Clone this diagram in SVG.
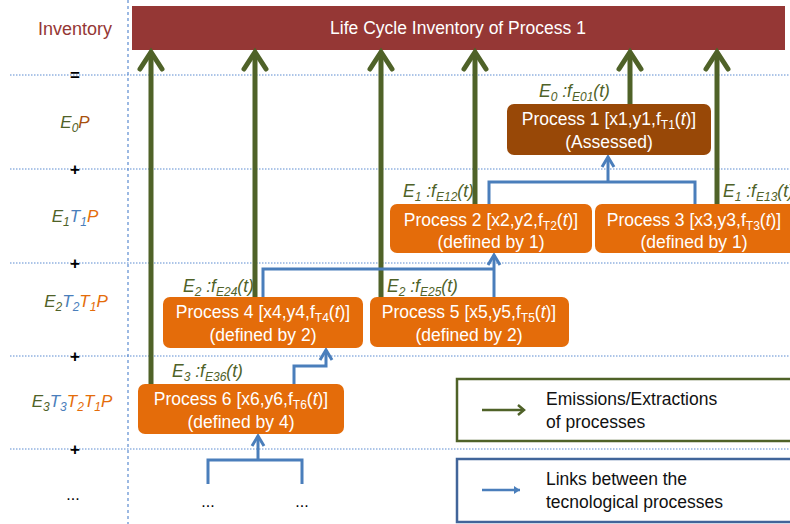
<svg xmlns="http://www.w3.org/2000/svg" width="790" height="524" viewBox="0 0 790 524">
<defs>
<style>
text{font-family:"Liberation Sans",Arial,sans-serif}
.grid{stroke:#5B8BD0;stroke-width:1;stroke-dasharray:1.5 1.5;fill:none}
.vgrid{stroke:#5B8BD0;stroke-width:1.2;stroke-dasharray:3 3;fill:none}
.em{stroke:#4F6228;stroke-width:5;fill:none;marker-end:url(#ga)}
.lk{stroke:#4A7EBB;stroke-width:3;fill:none}
.lka{stroke:#4A7EBB;stroke-width:3;fill:none;marker-end:url(#ba)}
.proc{fill:#E46C0A}
.p1{fill:#984807}
.pt{fill:#ffffff;font-size:17.5px;text-anchor:middle}
.sub{font-size:12px}
.it{font-style:italic}
.lbl{fill:#4F6228;font-size:17.5px;font-style:italic}
.ls{font-size:12px}
.side{font-size:17px;font-style:italic;text-anchor:middle}
.g{fill:#4F6228}.b{fill:#4A7EBB}.o{fill:#E46C0A}.ob{fill:#A8500C}
.op{font-size:17px;font-weight:bold;text-anchor:middle;fill:#000}
.leg{font-size:17.5px;fill:#111}
</style>
<marker id="ga" markerUnits="userSpaceOnUse" viewBox="-25 -15 30 30" markerWidth="30" markerHeight="30" refX="0" refY="0" orient="auto">
<path d="M-17,-11 L0,0 L-17,11" stroke="#4F6228" stroke-width="5" fill="none" stroke-linecap="round"/>
</marker>
<marker id="ba" markerUnits="userSpaceOnUse" viewBox="-16 -10 20 20" markerWidth="20" markerHeight="20" refX="0" refY="0" orient="auto">
<path d="M-10,-6 L0,0 L-10,6" stroke="#4A7EBB" stroke-width="3" fill="none"/>
</marker>
<marker id="gs" markerUnits="userSpaceOnUse" viewBox="-10 -8 12 16" markerWidth="12" markerHeight="16" refX="0" refY="0" orient="auto">
<path d="M-6,-5 L0,0 L-6,5" stroke="#4F6228" stroke-width="2.5" fill="none"/>
</marker>
<marker id="bs" markerUnits="userSpaceOnUse" viewBox="-10 -8 12 16" markerWidth="12" markerHeight="16" refX="0" refY="0" orient="auto">
<path d="M-6,-4 L0,0 L-6,4 Z" fill="#4A7EBB"/>
</marker>
</defs>
<rect width="790" height="524" fill="#ffffff"/>

<g id="grid">
<line class="vgrid" x1="128" y1="0" x2="128" y2="524"/>
<line class="grid" x1="10" y1="75" x2="790" y2="75"/>
<line class="grid" x1="10" y1="169" x2="790" y2="169"/>
<line class="grid" x1="10" y1="263" x2="790" y2="263"/>
<line class="grid" x1="10" y1="356" x2="790" y2="356"/>
<line class="grid" x1="10" y1="449" x2="790" y2="449"/>
</g>

<g id="side-labels">
<text x="75" y="35" font-size="18" fill="#953735" text-anchor="middle">Inventory</text>
<text class="op" x="75" y="81">=</text>
<text class="side" x="75" y="128"><tspan class="g">E</tspan><tspan class="g ls" dy="4">0</tspan><tspan class="ob" dy="-4">P</tspan></text>
<text class="op" x="75" y="175">+</text>
<text class="side" x="75" y="222"><tspan class="g">E</tspan><tspan class="g ls" dy="4">1</tspan><tspan class="b" dy="-4">T</tspan><tspan class="b ls" dy="4">1</tspan><tspan class="o" dy="-4">P</tspan></text>
<text class="op" x="75" y="269">+</text>
<text class="side" x="76" y="307"><tspan class="g">E</tspan><tspan class="g ls" dy="4">2</tspan><tspan class="b" dy="-4">T</tspan><tspan class="b ls" dy="4">2</tspan><tspan class="o" dy="-4">T</tspan><tspan class="o ls" dy="4">1</tspan><tspan class="o" dy="-4">P</tspan></text>
<text class="op" x="75" y="362">+</text>
<text class="side" x="72" y="407"><tspan class="g">E</tspan><tspan class="g ls" dy="4">3</tspan><tspan class="b" dy="-4">T</tspan><tspan class="b ls" dy="4">3</tspan><tspan class="o" dy="-4">T</tspan><tspan class="o ls" dy="4">2</tspan><tspan class="o" dy="-4">T</tspan><tspan class="o ls" dy="4">1</tspan><tspan class="o" dy="-4">P</tspan></text>
<text class="op" x="75" y="455">+</text>
<text x="73" y="500" font-size="16" text-anchor="middle" fill="#000">...</text>
</g>

<g id="inventory">
<rect x="132" y="6" width="653" height="44" fill="#953735"/>
<text x="458" y="34" font-size="17.5" fill="#ffffff" text-anchor="middle">Life Cycle Inventory of Process 1</text>
</g>

<g id="connectors">
<line class="em" x1="151" y1="384" x2="151" y2="52"/>
<line class="em" x1="255" y1="297" x2="255" y2="52"/>
<line class="em" x1="381" y1="297" x2="381" y2="52"/>
<line class="em" x1="475" y1="204" x2="475" y2="52"/>
<line class="em" x1="630" y1="104" x2="630" y2="52"/>
<line class="em" x1="717" y1="204" x2="717" y2="52"/>
<path class="lk" d="M489,204 V182 H695 V204"/>
<path class="lka" d="M608,182 V157"/>
<path class="lk" d="M263,297 V269 H494"/>
<path class="lka" d="M494,297 V255"/>
<path class="lka" d="M294,384 V366 H326 V350"/>
<path class="lk" d="M208,484 V460 H302 V484"/>
<path class="lka" d="M258,460 V436"/>
</g>

<g id="p1">
<rect class="p1" x="507" y="104" width="204" height="51" rx="7"/>
<text class="pt" x="609" y="125">Process 1 [x1,y1,f<tspan class="sub" dy="4">T1</tspan><tspan dy="-4">(</tspan><tspan class="it">t</tspan>)]</text>
<text class="pt" x="609" y="148">(Assessed)</text>
<text class="lbl" x="539" y="97">E<tspan class="ls" dy="4">0</tspan><tspan dy="-4"> :f</tspan><tspan class="ls" dy="4">E01</tspan><tspan dy="-4">(t)</tspan></text>
</g>

<g id="p2">
<rect class="proc" x="390" y="204" width="202" height="49" rx="7"/>
<text class="pt" x="491" y="226">Process 2 [x2,y2,f<tspan class="sub" dy="4">T2</tspan><tspan dy="-4">(</tspan><tspan class="it">t</tspan>)]</text>
<text class="pt" x="491" y="248">(defined by 1)</text>
<text class="lbl" x="403" y="197">E<tspan class="ls" dy="4">1</tspan><tspan dy="-4"> :f</tspan><tspan class="ls" dy="4">E12</tspan><tspan dy="-4">(t)</tspan></text>
</g>

<g id="p3">
<rect class="proc" x="595" y="204" width="205" height="49" rx="7"/>
<text class="pt" x="694" y="226">Process 3 [x3,y3,f<tspan class="sub" dy="4">T3</tspan><tspan dy="-4">(</tspan><tspan class="it">t</tspan>)]</text>
<text class="pt" x="694" y="248">(defined by 1)</text>
<text class="lbl" x="723" y="197">E<tspan class="ls" dy="4">1</tspan><tspan dy="-4"> :f</tspan><tspan class="ls" dy="4">E13</tspan><tspan dy="-4">(t)</tspan></text>
</g>

<g id="p4">
<rect class="proc" x="163" y="297" width="200" height="51" rx="7"/>
<text class="pt" x="263" y="318">Process 4 [x4,y4,f<tspan class="sub" dy="4">T4</tspan><tspan dy="-4">(</tspan><tspan class="it">t</tspan>)]</text>
<text class="pt" x="263" y="341">(defined by 2)</text>
<text class="lbl" x="183" y="292">E<tspan class="ls" dy="4">2</tspan><tspan dy="-4"> :f</tspan><tspan class="ls" dy="4">E24</tspan><tspan dy="-4">(t)</tspan></text>
</g>

<g id="p5">
<rect class="proc" x="370" y="297" width="199" height="50" rx="7"/>
<text class="pt" x="469" y="318">Process 5 [x5,y5,f<tspan class="sub" dy="4">T5</tspan><tspan dy="-4">(</tspan><tspan class="it">t</tspan>)]</text>
<text class="pt" x="469" y="341">(defined by 2)</text>
<text class="lbl" x="387" y="292">E<tspan class="ls" dy="4">2</tspan><tspan dy="-4"> :f</tspan><tspan class="ls" dy="4">E25</tspan><tspan dy="-4">(t)</tspan></text>
</g>

<g id="p6">
<rect class="proc" x="138" y="384" width="206" height="50" rx="7"/>
<text class="pt" x="241" y="405">Process 6 [x6,y6,f<tspan class="sub" dy="4">T6</tspan><tspan dy="-4">(</tspan><tspan class="it">t</tspan>)]</text>
<text class="pt" x="241" y="428">(defined by 4)</text>
<text class="lbl" x="172" y="377">E<tspan class="ls" dy="4">3</tspan><tspan dy="-4"> :f</tspan><tspan class="ls" dy="4">E36</tspan><tspan dy="-4">(t)</tspan></text>
</g>

<g id="more">
<text x="208" y="507" font-size="16" text-anchor="middle" fill="#000">...</text>
<text x="302" y="507" font-size="16" text-anchor="middle" fill="#000">...</text>
</g>

<g id="legend-emissions">
<rect x="457" y="379" width="345" height="62" fill="#ffffff" stroke="#4F6228" stroke-width="2.5"/>
<line x1="482" y1="410" x2="524" y2="410" stroke="#4F6228" stroke-width="2.5" marker-end="url(#gs)"/>
<text class="leg" x="546" y="405">Emissions/Extractions</text>
<text class="leg" x="546" y="428">of processes</text>
</g>

<g id="legend-links">
<rect x="457" y="459" width="345" height="63" fill="#ffffff" stroke="#41659A" stroke-width="2.5"/>
<line x1="482" y1="490" x2="520" y2="490" stroke="#4A7EBB" stroke-width="2.5" marker-end="url(#bs)"/>
<text class="leg" x="546" y="485">Links between the</text>
<text class="leg" x="546" y="508">tecnological processes</text>
</g>
</svg>
